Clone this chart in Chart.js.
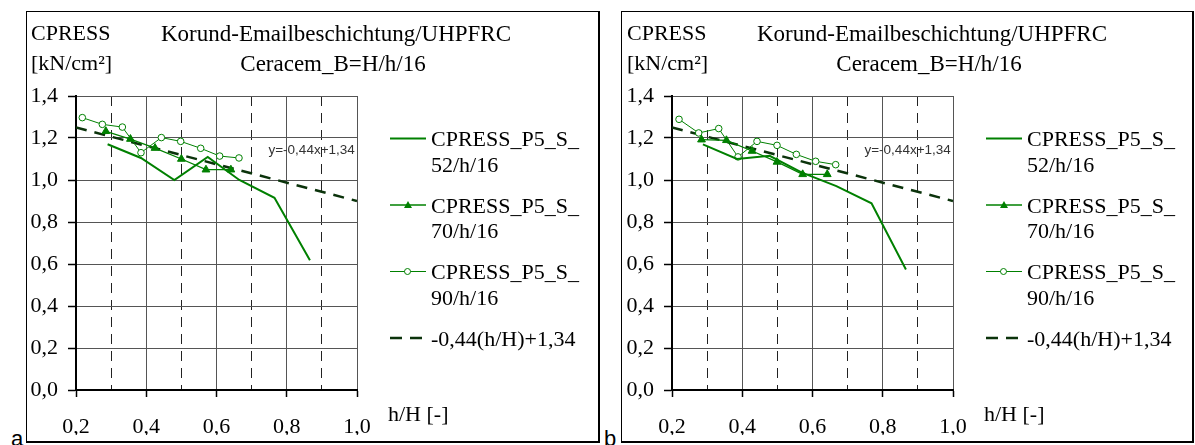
<!DOCTYPE html>
<html>
<head>
<meta charset="utf-8">
<script src="https://cdn.jsdelivr.net/npm/chart.js"></script>
<style>
  body { margin: 0; background: #fff; width: 1195px; height: 445px; overflow: hidden; position: relative; }
  canvas { position: absolute; top: 0; }
  .box { position: absolute; top: 11px; height: 429px; border-left: 1px solid #000; border-top: 1px solid #000; border-right: 2px solid #000; border-bottom: 2px solid #000; }
  .tag { position: absolute; top: 428px; font: 22px "Liberation Sans", Arial, sans-serif; line-height: 22px; }
</style>
</head>
<body>
<div class="box" style="left:26px; width:571px"></div>
<div class="box" style="left:621px; width:570px"></div>
<div class="tag" style="left:11px">a</div>
<div class="tag" style="left:604px">b</div>
<canvas id="chartA" width="600" height="445" style="left:0px"></canvas>
<canvas id="chartB" width="600" height="445" style="left:596px"></canvas>
<script>
// text
const titleLines = ["Korund-Emailbeschichtung/UHPFRC", "Ceracem_B=H/h/16"]
const yTitle = ["CPRESS", "[kN/cm²]"]
const xTitle = "h/H [-]"
const seriesNames = [["CPRESS_P5_S_", "52/h/16"], ["CPRESS_P5_S_", "70/h/16"], ["CPRESS_P5_S_", "90/h/16"], ["-0,44(h/H)+1,34"]]
const trendLabel = "y=-0,44x+1,34"
const trendLabelAt = [0.748, 1.143]

// panel a
const a52x = [0.29, 0.385, 0.48, 0.575, 0.665, 0.765, 0.866]
const a52y = [1.17, 1.105, 1.00, 1.11, 1.00, 0.915, 0.618]
const a70x = [0.285, 0.355, 0.425, 0.50, 0.57, 0.641]
const a70y = [1.232, 1.195, 1.152, 1.10, 1.049, 1.049]
const a90x = [0.218, 0.275, 0.332, 0.385, 0.443, 0.498, 0.555, 0.609, 0.664]
const a90y = [1.297, 1.265, 1.252, 1.13, 1.202, 1.184, 1.151, 1.114, 1.105]

// panel b
const b52x = [0.288, 0.385, 0.478, 0.57, 0.668, 0.768, 0.866]
const b52y = [1.17, 1.10, 1.115, 1.035, 0.971, 0.889, 0.574]
const b70x = [0.284, 0.355, 0.428, 0.499, 0.572, 0.642]
const b70y = [1.192, 1.189, 1.138, 1.086, 1.027, 1.027]
const b90x = [0.22, 0.276, 0.333, 0.388, 0.442, 0.499, 0.554, 0.609, 0.666]
const b90y = [1.289, 1.224, 1.245, 1.11, 1.184, 1.165, 1.122, 1.089, 1.073]

// trend line, same in both panels
const trendX = [0.2, 1.0]
const trendY = [1.25, 0.90]

const green = "#008000"
const trendColor = "#0b330b"
const serif = '"Liberation Serif", "Times New Roman", serif'

Chart.defaults.font.family = serif
Chart.defaults.font.size = 22
Chart.defaults.color = "#000"

function pts(xs, ys){
    return xs.map((x, i) => ({ x: x, y: ys[i] }))
}

function isOdd(v){
    return Math.round(v * 10) % 2 === 1
}

function comma(v){
    return v.toFixed(1).replace(".", ",")
}

// titles, axis names, legend and the trend label
const panelText = {
    id: "panelText",
    afterDraw(chart){
        const ctx = chart.ctx
        const xs = chart.scales.x
        const ys = chart.scales.y
        ctx.save()
        ctx.fillStyle = "#000"
        ctx.font = "22px " + serif
        ctx.textBaseline = "alphabetic"
        ctx.textAlign = "left"
        ctx.fillText(yTitle[0], 31, 40)
        ctx.fillText(yTitle[1], 31, 70)
        ctx.fillText(xTitle, 388, 421)
        ctx.font = "23px " + serif
        ctx.textAlign = "center"
        ctx.fillText(titleLines[0], 336, 40.5)
        ctx.fillText(titleLines[1], 333, 70.5)

        // legend
        const rowY = [138.5, 205, 271.5, 338]
        ctx.font = "22px " + serif
        ctx.textAlign = "left"
        seriesNames.forEach((name, i) => {
            const y = rowY[i]
            const ds = chart.data.datasets[i]
            ctx.strokeStyle = ds.borderColor
            ctx.lineWidth = ds.borderWidth
            ctx.setLineDash(i == 3 ? [12, 8] : [])
            ctx.beginPath()
            ctx.moveTo(390, y)
            ctx.lineTo(426, y)
            ctx.stroke()
            ctx.setLineDash([])
            if (i == 1){
                ctx.fillStyle = green
                ctx.beginPath()
                ctx.moveTo(408, y - 4)
                ctx.lineTo(412, y + 3)
                ctx.lineTo(404, y + 3)
                ctx.closePath()
                ctx.fill()
            }
            if (i == 2){
                ctx.fillStyle = "#fff"
                ctx.lineWidth = 1
                ctx.beginPath()
                ctx.arc(407.5, y, 3, 0, Math.PI * 2)
                ctx.fill()
                ctx.stroke()
            }
            ctx.fillStyle = "#000"
            name.forEach((line, k) => {
                ctx.fillText(line, 431, y + 7.5 + k * 25.5)
            })
        })

        // regression label
        ctx.font = '13.5px "Liberation Sans", Arial, sans-serif'
        ctx.fillStyle = "#333"
        ctx.textBaseline = "middle"
        ctx.fillText(trendLabel, xs.getPixelForValue(trendLabelAt[0]), ys.getPixelForValue(trendLabelAt[1]))
        ctx.restore()
    }
}

function makePanel(canvasId, s52x, s52y, s70x, s70y, s90x, s90y){
    const ctx = document.getElementById(canvasId).getContext("2d")
    return new Chart(ctx, {
        type: "line",
        data: {
            datasets: [{
                label: seriesNames[0].join(""),
                data: pts(s52x, s52y),
                borderColor: green,
                borderWidth: 2,
                pointRadius: 0,
                fill: false
            }, {
                label: seriesNames[1].join(""),
                data: pts(s70x, s70y),
                borderColor: green,
                backgroundColor: green,
                borderWidth: 1.3,
                pointStyle: "triangle",
                pointRadius: 4.5,
                pointBorderWidth: 1,
                fill: false
            }, {
                label: seriesNames[2].join(""),
                data: pts(s90x, s90y),
                borderColor: green,
                backgroundColor: "#fff",
                borderWidth: 1,
                pointStyle: "circle",
                pointRadius: 3.3,
                pointBorderWidth: 1,
                fill: false
            }, {
                label: seriesNames[3][0],
                data: pts(trendX, trendY),
                borderColor: trendColor,
                borderWidth: 2.5,
                borderDash: [11, 8],
                pointRadius: 0,
                fill: false
            }]
        },
        options: {
            responsive: false,
            devicePixelRatio: 1,
            animation: false,
            events: [],
            layout: { padding: { left: 0, top: 96, right: 243, bottom: 10 } },
            scales: {
                x: {
                    type: "linear",
                    min: 0.2,
                    max: 1.0,
                    afterFit: (scale) => { scale.height = 45 },
                    ticks: {
                        stepSize: 0.1,
                        autoSkip: false,
                        maxRotation: 0,
                        padding: 17,
                        callback: (v) => isOdd(v) ? "" : comma(v)
                    },
                    grid: {
                        color: (c) => (c.tick && isOdd(c.tick.value)) ? "#222" : "#555",
                        lineWidth: 1,
                        tickLength: 7,
                        tickWidth: 1.5,
                        tickColor: (c) => (c.tick && isOdd(c.tick.value)) ? "rgba(0,0,0,0)" : "#000"
                    },
                    border: {
                        color: "#000",
                        width: 2,
                        dash: (c) => (c.tick && isOdd(c.tick.value)) ? [10, 7] : []
                    }
                },
                y: {
                    min: 0,
                    max: 1.4,
                    afterFit: (scale) => { scale.width = 76 },
                    ticks: {
                        stepSize: 0.2,
                        padding: 10,
                        callback: (v) => comma(v)
                    },
                    grid: {
                        color: "#555",
                        lineWidth: 1,
                        tickLength: 8,
                        tickWidth: 1.5,
                        tickColor: "#000"
                    },
                    border: { color: "#000", width: 2 }
                }
            },
            plugins: {
                legend: { display: false },
                tooltip: { enabled: false },
                title: { display: false }
            }
        },
        plugins: [panelText]
    })
}

makePanel("chartA", a52x, a52y, a70x, a70y, a90x, a90y)
makePanel("chartB", b52x, b52y, b70x, b70y, b90x, b90y)
</script>
</body>
</html>
